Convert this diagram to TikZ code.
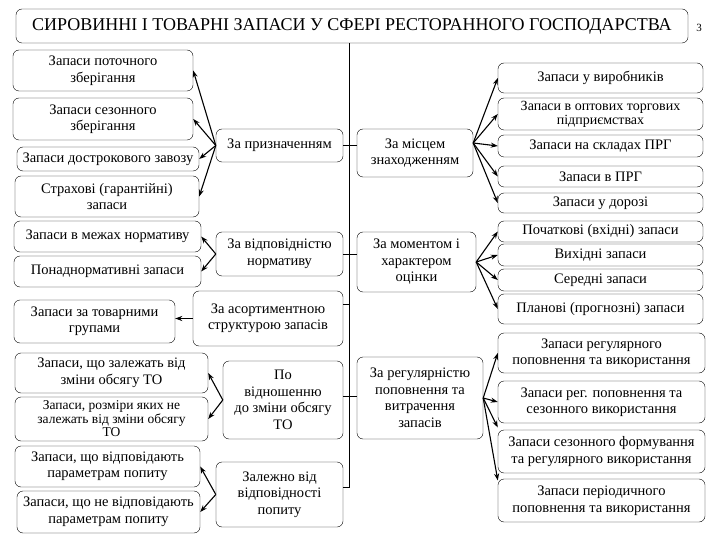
\documentclass[tikz,border=0pt]{standalone}
\usepackage{fontspec}
\setmainfont{Liberation Serif}
\usetikzlibrary{arrows.meta,positioning,calc}

\begin{document}
\begin{tikzpicture}[
  x=1pt, y=-1pt,
  font=\fontsize{14.5}{16.5}\selectfont,
  cls/.style={draw, rounded corners=6pt, thin, align=center, inner sep=1pt, fill=white},
  kind/.style={draw, rounded corners=6pt, thin, align=center, inner sep=1pt, fill=white},
  rel/.style={-{Stealth[length=7pt,width=5pt]}, line width=1.1pt},
  trunk/.style={thin}
]
\useasboundingbox (0,0) rectangle (720,540);

% title
\node[cls, minimum width=672pt, minimum height=34pt, font=\fontsize{18}{20}\selectfont] (title) at (352,26) {СИРОВИННІ І ТОВАРНІ ЗАПАСИ У СФЕРІ РЕСТОРАННОГО ГОСПОДАРСТВА};
\node[font=\fontsize{11}{12}\selectfont] (pg) at (699,28) {3};

% classification features
\node[cls, minimum width=127pt, minimum height=33pt] (purpose) at (279.5,145.5) {За призначенням};
\node[cls, minimum width=127pt, minimum height=44pt] (norm) at (279.5,254) {За відповідністю\\нормативу};
\node[cls, minimum width=150pt, minimum height=55pt] (assort) at (268,318.5) {За асортиментною\\структурою запасів};
\node[cls, minimum width=120pt, minimum height=78pt] (volume) at (283,400) {По\\відношенню\\до зміни обсягу\\ТО};
\node[cls, minimum width=127pt, minimum height=65pt] (demand) at (279.5,494.5) {Залежно від\\відповідності\\попиту};
\node[cls, minimum width=116pt, minimum height=48pt] (place) at (415,153) {За місцем\\знаходженням};
\node[cls, minimum width=119pt, minimum height=60pt] (moment) at (416.5,262) {За моментом і\\характером\\оцінки};
\node[cls, minimum width=126pt, minimum height=82pt] (regular) at (420,398) {За регулярністю\\поповнення та\\витрачення\\запасів};

% left kinds
\node[kind, minimum width=180pt, minimum height=41pt] (cur) at (103,70.5) {Запаси поточного\\зберігання};
\node[kind, minimum width=180pt, minimum height=42pt] (season) at (103,119) {Запаси сезонного\\зберігання};
\node[kind, minimum width=182pt, minimum height=24pt] (early) at (108,159) {Запаси дострокового завозу};
\node[kind, minimum width=184pt, minimum height=41pt] (safety) at (107,196.5) {Страхові (гарантійні)\\запаси};
\node[kind, minimum width=187pt, minimum height=31pt] (within) at (107.5,236.5) {Запаси в межах нормативу};
\node[kind, minimum width=187pt, minimum height=31pt] (over) at (107.5,271.5) {Понаднормативні запаси};
\node[kind, minimum width=161pt, minimum height=43pt] (groups) at (94.5,321.5) {Запаси за товарними\\групами};
\node[kind, minimum width=193pt, minimum height=40pt] (dep) at (111.5,373) {Запаси, що залежать від\\зміни обсягу ТО};
\node[kind, minimum width=193pt, minimum height=44pt, font=\fontsize{13.5}{13.5}\selectfont] (indep) at (111.5,419) {Запаси, розміри яких не\\залежать від зміни обсягу\\ТО};
\node[kind, minimum width=185pt, minimum height=41pt] (fit) at (107.5,466.5) {Запаси, що відповідають\\параметрам попиту};
\node[kind, minimum width=183pt, minimum height=42pt] (unfit) at (108.5,512) {Запаси, що не відповідають\\параметрам попиту};

% right kinds
\node[kind, minimum width=205pt, minimum height=30pt] (prod) at (600.5,78) {Запаси у виробників};
\node[kind, minimum width=205pt, minimum height=32pt, font=\fontsize{14}{14}\selectfont] (whole) at (600.5,114) {Запаси в оптових торгових\\підприємствах};
\node[kind, minimum width=205pt, minimum height=22pt] (stock) at (600.5,146) {Запаси на складах ПРГ};
\node[kind, minimum width=205pt, minimum height=21pt] (inprg) at (600.5,176.5) {Запаси в ПРГ};
\node[kind, minimum width=205pt, minimum height=20pt] (road) at (600.5,203) {Запаси у дорозі};
\node[kind, minimum width=205pt, minimum height=21pt] (open) at (600.5,231.5) {Початкові (вхідні) запаси};
\node[kind, minimum width=205pt, minimum height=22pt] (close) at (600.5,255) {Вихідні запаси};
\node[kind, minimum width=205pt, minimum height=22pt] (avg) at (600.5,280) {Середні запаси};
\node[kind, minimum width=205pt, minimum height=30pt] (plan) at (600.5,309) {Планові (прогнозні) запаси};
\node[kind, minimum width=207pt, minimum height=40pt] (regreg) at (601.5,353) {Запаси регулярного\\поповнення та використання};
\node[kind, minimum width=207pt, minimum height=42pt] (regseas) at (601.5,402) {Запаси рег. поповнення та\\сезонного використання};
\node[kind, minimum width=207pt, minimum height=43pt] (seasreg) at (601.5,451.5) {Запаси сезонного формування\\та регулярного використання};
\node[kind, minimum width=207pt, minimum height=43pt] (period) at (601.5,500.5) {Запаси періодичного\\поповнення та використання};

% trunk
\coordinate (tb) at (349,487);
\draw[trunk] (title.south -| tb) -- (tb) -- (tb -| demand.east);
\draw[trunk] (purpose.east) -- (purpose.east -| place.west);
\draw[trunk] (norm.east) -- (norm.east -| moment.west);
\draw[trunk] ([yshift=14pt]assort.east) -- ([yshift=14pt]assort.east -| tb);
\draw[trunk] ([yshift=4pt]volume.east) -- ([yshift=4pt]volume.east -| regular.west);

% arrows
\foreach \k in {cur,season,early,safety} \draw[rel] (purpose.west) -- (\k.east);
\foreach \k in {within,over} \draw[rel] (norm.west) -- (\k.east);
\draw[rel] (assort.west) -- (assort.west -| groups.east);
\foreach \k in {dep,indep} \draw[rel] (volume.west) -- (\k.east);
\foreach \k in {fit,unfit} \draw[rel] (demand.west) -- (\k.east);
\foreach \k in {prod,whole,stock,inprg,road} \draw[rel] ([yshift=10pt]place.east) -- (\k.west);
\foreach \k in {open,close,avg,plan} \draw[rel] (moment.east) -- (\k.west);
\draw[rel] (regular.east) -- (regreg.west);
\draw[rel] (regular.east) -- (regseas.west);
\draw[rel] (regular.east) -- ([yshift=24pt]seasreg.west);
\draw[rel] (regular.east) -- ([yshift=20pt]period.west);
\end{tikzpicture}
\end{document}
